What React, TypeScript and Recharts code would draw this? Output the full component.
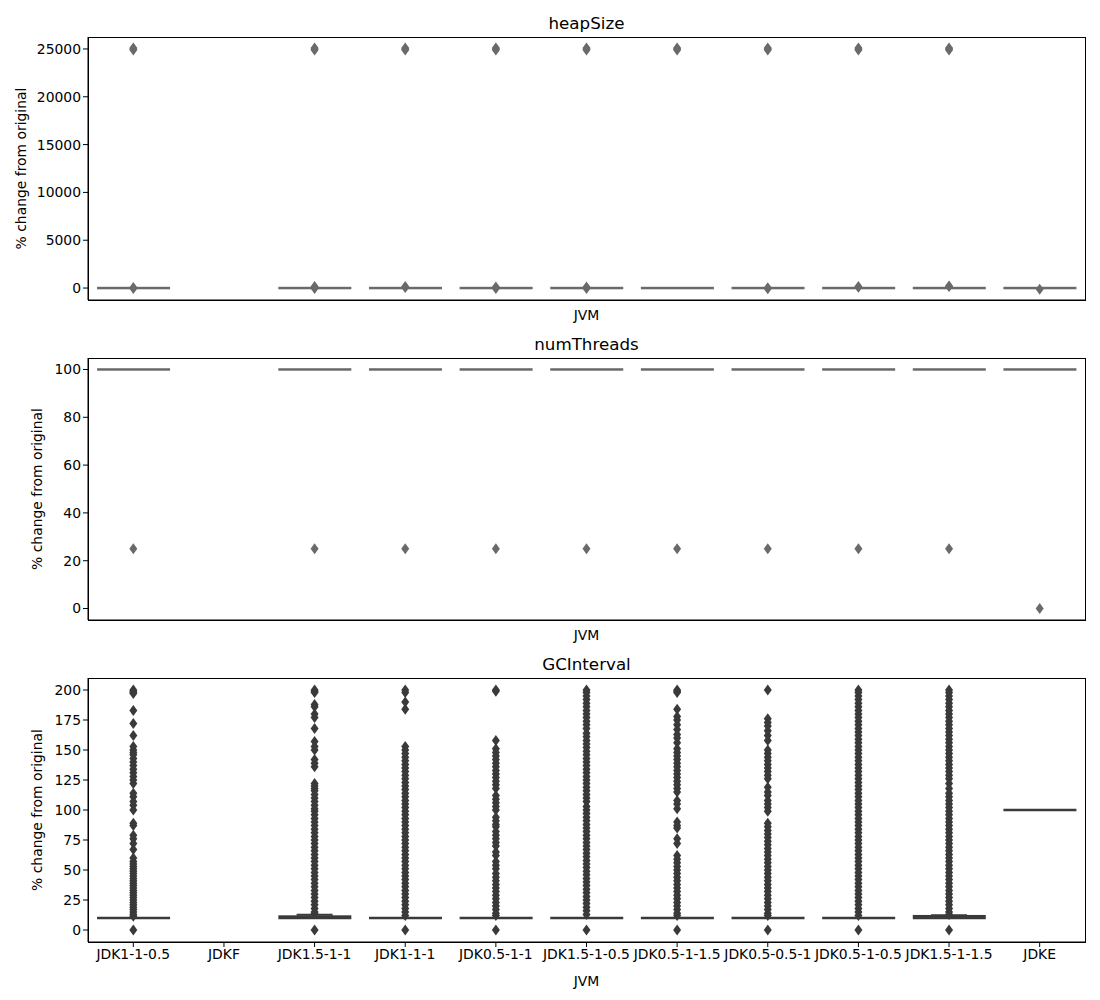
import React from "react"
import { ComposedChart, Bar, Scatter, XAxis, YAxis } from "recharts"

const jvms = [
  "JDK1-1-0.5",
  "JDKF",
  "JDK1.5-1-1",
  "JDK1-1-1",
  "JDK0.5-1-1",
  "JDK1.5-1-0.5",
  "JDK0.5-1-1.5",
  "JDK0.5-0.5-1",
  "JDK0.5-1-0.5",
  "JDK1.5-1-1.5",
  "JDKE",
]

// heapSize
const heapQ1 = [0, null, 0, 0, 0, 0, 0, 0, 0, 0, 0]
const heapQ3 = [0, null, 0, 0, 0, 0, 0, 0, 0, 0, 0]
const heapWhiskerHi = [0, null, 0, 0, 0, 0, 0, 0, 0, 0, 0]
const heapOutliers = [
  [25100, 25000, 24900, -60, 60],
  [],
  [25100, 25000, 24900, -60, 80, 150],
  [25100, 25000, 24900, 60, 150],
  [25100, 25000, 24900, -60, 100],
  [25100, 25000, 24900, -40, 120],
  [25100, 25000, 24900],
  [25100, 25000, 24900, -80, 40],
  [25100, 25000, 24900, 80, 160],
  [25100, 25000, 24900, 150, 220],
  [-120],
]
const heapTicks = [0, 5000, 10000, 15000, 20000, 25000]

// numThreads
const threadQ1 = [100, null, 100, 100, 100, 100, 100, 100, 100, 100, 100]
const threadQ3 = [100, null, 100, 100, 100, 100, 100, 100, 100, 100, 100]
const threadWhiskerHi = [100, null, 100, 100, 100, 100, 100, 100, 100, 100, 100]
const threadOutliers = [[25], [], [25], [25], [25], [25], [25], [25], [25], [25], [0]]
const threadTicks = [0, 20, 40, 60, 80, 100]

// GCInterval
const gcQ1 = [10, null, 10, 10, 10, 10, 10, 10, 10, 10, 100]
const gcQ3 = [10, null, 11.2, 10, 10, 10, 10, 10, 10, 11.5, 100]
const gcWhiskerHi = [10, null, 12.8, 10, 10, 10, 10, 10, 10, 12.3, 100]
const gcOutliers = [
  [200, 199, 198, 197, 183, 172, 162, 153, 150, 148, 146, 143, 140, 137, 134, 131, 128, 125, 122, 114, 111, 107, 104, 100, 89, 87,
    79, 76, 72, 67, 60, 57, 55, 53, 51, 49, 47, 45, 43, 41, 39, 37, 35, 33, 31, 29, 27, 25, 23, 21, 19, 17, 15, 13, 11.5, 0],
  [],
  [200, 199, 198, 188, 186, 180, 177, 168, 157, 153, 150, 142, 139, 136, 122, 120, 118, 116, 113, 110, 107, 104, 101, 99, 96, 93,
    90, 87, 84, 81, 78, 75, 72, 69, 66, 63, 60, 57, 54, 51, 48, 45, 42, 39, 36, 33, 30, 27, 24, 21, 18, 15, 13.5, 0],
  [200, 198, 190, 184, 153, 150, 147, 144, 141, 138, 135, 132, 129, 126, 123, 120, 117, 114, 111, 108, 105, 102, 99, 96, 93, 90,
    87, 84, 81, 78, 75, 72, 69, 66, 63, 60, 57, 54, 51, 48, 45, 42, 39, 36, 33, 30, 27, 24, 21, 18, 15, 12, 0],
  [200, 199, 158, 151, 148, 145, 142, 139, 136, 133, 130, 127, 124, 121, 118, 112, 109, 106, 103, 100, 94, 91, 88, 86, 82, 79,
    76, 73, 70, 65, 62, 57, 54, 51, 47, 44, 41, 38, 35, 32, 29, 26, 23, 20, 17, 14, 12, 0],
  [200, 198, 195, 192, 189, 186, 183, 180, 177, 174, 171, 168, 164, 161, 158, 155, 152, 149, 146, 143, 140, 137, 134, 131, 128,
    125, 122, 119, 116, 113, 110, 107, 103, 100, 97, 94, 91, 88, 85, 82, 79, 76, 73, 70, 67, 64, 61, 58, 55, 52, 49, 46, 43, 40,
    37, 34, 31, 28, 25, 22, 19, 16, 13, 0],
  [200, 199, 198, 184, 178, 175, 171, 167, 163, 160, 156, 151, 148, 145, 142, 139, 136, 133, 130, 127, 124, 121, 118, 115, 108,
    105, 101, 90, 87, 85, 76, 72, 62, 59, 56, 53, 50, 47, 44, 41, 38, 35, 32, 29, 26, 23, 20, 17, 14, 12, 0],
  [200, 176, 173, 170, 166, 162, 158, 150, 147, 144, 141, 138, 135, 132, 129, 126, 119, 115, 112, 108, 105, 102, 99, 89, 86, 83,
    80, 77, 74, 71, 68, 65, 62, 59, 56, 53, 50, 47, 44, 41, 38, 35, 32, 29, 26, 23, 20, 17, 14, 12, 0],
  [200, 198, 195, 192, 189, 186, 183, 180, 177, 174, 171, 168, 165, 162, 159, 156, 153, 150, 147, 144, 141, 138, 135, 132, 129,
    126, 123, 120, 117, 114, 111, 108, 105, 102, 99, 96, 93, 90, 87, 84, 81, 78, 75, 72, 69, 66, 63, 60, 57, 54, 51, 48, 45, 42,
    39, 36, 33, 30, 27, 24, 21, 18, 15, 12, 0],
  [200, 198, 195, 192, 189, 186, 183, 180, 177, 174, 171, 168, 165, 162, 159, 156, 153, 150, 147, 144, 141, 138, 135, 132, 129,
    126, 122, 118, 114, 111, 108, 105, 102, 99, 96, 93, 90, 87, 84, 81, 78, 75, 72, 69, 66, 63, 60, 57, 54, 51, 48, 45, 42, 39,
    36, 33, 30, 27, 24, 21, 18, 15, 13, 0],
  [],
]
const gcTicks = [0, 25, 50, 75, 100, 125, 150, 175, 200]

const FONT = "DejaVu Sans"
const PLOT_LEFT = 88
const PLOT_WIDTH = 997

function Diamond(props: any) {
  const { cx, cy, fill } = props
  if (cx == null || cy == null) return null
  return <path d={`M${cx},${cy - 5.5}L${cx + 4},${cy}L${cx},${cy + 5.5}L${cx - 4},${cy}Z`} fill={fill} />
}

// collapsed boxes have zero height, so draw them at least as a 2.5px line
function makeBoxShape(color: string) {
  return (props: any) => {
    const { x, y, width, height } = props
    if (x == null || y == null || !width) return null
    const top = Math.min(y, y + (height || 0))
    const h = Math.abs(height || 0)
    return <rect x={x} y={top - 1.25} width={width} height={h + 2.5} fill={color} />
  }
}

function makeCapShape(color: string) {
  return (props: any) => {
    const { cx, cy } = props
    if (cx == null || cy == null) return null
    return <line x1={cx - 18} x2={cx + 18} y1={cy} y2={cy} stroke={color} strokeWidth={2} />
  }
}

function YLabel(x: number) {
  return (props: any) => {
    const vb = props.viewBox
    const cy = vb.y + vb.height / 2
    return (
      <text x={x} y={cy} transform={`rotate(-90 ${x} ${cy})`} textAnchor="middle" dominantBaseline="central"
        fontFamily={FONT} fontSize={13.9} fill="#000">
        % change from original
      </text>
    )
  }
}

type PanelProps = {
  title: string
  top: number
  height: number
  marginTop: number
  axisHeight: number
  labelOffset: number
  yLabelX: number
  q1: (number | null)[]
  q3: (number | null)[]
  whiskerHi: (number | null)[]
  outliers: number[][]
  ticks: number[]
  domain: [number, number]
  color: string
  showTickLabels: boolean
}

function Panel(p: PanelProps) {
  const rows = jvms.map((jvm, i) => ({
    jvm,
    box: p.q1[i] == null ? null : [p.q1[i], p.q3[i]],
  }))
  const points = jvms.flatMap((jvm, i) => p.outliers[i].map((value) => ({ jvm, value })))
  const caps = jvms
    .map((jvm, i) => ({ jvm, value: p.whiskerHi[i], q3: p.q3[i] }))
    .filter((c) => c.value != null && c.q3 != null && c.value > c.q3)
  const plotHeight = p.height - p.marginTop - p.axisHeight

  return (
    <div style={{ position: "absolute", left: 0, top: p.top, width: 1100, height: p.height }}>
      <div
        style={{
          position: "absolute",
          left: PLOT_LEFT,
          width: PLOT_WIDTH,
          top: p.marginTop - 24,
          lineHeight: "20px",
          textAlign: "center",
          fontFamily: FONT,
          fontSize: 16.7,
          color: "#000",
        }}
      >
        {p.title}
      </div>
      <ComposedChart
        width={1100}
        height={p.height}
        data={rows}
        margin={{ top: p.marginTop, right: 15, bottom: 0, left: 0 }}
        barCategoryGap="10%"
      >
        <XAxis
          dataKey="jvm"
          type="category"
          allowDuplicatedCategory={false}
          height={p.axisHeight}
          interval={0}
          stroke="#000"
          tickSize={5}
          tickLine={{ stroke: "#000" }}
          axisLine={{ stroke: "#000" }}
          tick={p.showTickLabels ? { fill: "#000", fontFamily: FONT, fontSize: 13.9 } : false}
          label={{ value: "JVM", position: "insideBottom", offset: p.labelOffset, fill: "#000", fontFamily: FONT, fontSize: 13.9 }}
        />
        <YAxis
          type="number"
          width={PLOT_LEFT}
          domain={p.domain}
          ticks={p.ticks}
          allowDataOverflow
          interval={0}
          stroke="#000"
          tickSize={5}
          tick={{ fill: "#000", fontFamily: FONT, fontSize: 13.9 }}
          label={{ content: YLabel(p.yLabelX) }}
        />
        <Bar dataKey="box" shape={makeBoxShape(p.color)} isAnimationActive={false} />
        <Scatter data={caps} dataKey="value" shape={makeCapShape(p.color)} isAnimationActive={false} />
        <Scatter data={points} dataKey="value" fill={p.color} shape={<Diamond />} isAnimationActive={false} />
      </ComposedChart>
      {/* axes frame (top and right spines) */}
      <div
        style={{
          position: "absolute",
          left: PLOT_LEFT - 0.5,
          top: p.marginTop - 0.5,
          width: PLOT_WIDTH + 1,
          height: plotHeight + 1,
          boxSizing: "border-box",
          border: "1px solid #000",
          pointerEvents: "none",
        }}
      />
    </div>
  )
}

export default function App() {
  return (
    <div style={{ position: "absolute", left: 0, top: 0, width: 1100, height: 1000, background: "#fff" }}>
      <Panel
        title="heapSize"
        top={0}
        height={330}
        marginTop={37}
        axisHeight={30}
        labelOffset={10}
        yLabelX={21}
        q1={heapQ1}
        q3={heapQ3}
        whiskerHi={heapWhiskerHi}
        outliers={heapOutliers}
        ticks={heapTicks}
        domain={[-1250, 26250]}
        color="#6a6a6a"
        showTickLabels={false}
      />
      <Panel
        title="numThreads"
        top={330}
        height={320}
        marginTop={28}
        axisHeight={30}
        labelOffset={10}
        yLabelX={37}
        q1={threadQ1}
        q3={threadQ3}
        whiskerHi={threadWhiskerHi}
        outliers={threadOutliers}
        ticks={threadTicks}
        domain={[-4.8, 104.8]}
        color="#6a6a6a"
        showTickLabels={false}
      />
      <Panel
        title="GCInterval"
        top={650}
        height={342}
        marginTop={28}
        axisHeight={50}
        labelOffset={6}
        yLabelX={37}
        q1={gcQ1}
        q3={gcQ3}
        whiskerHi={gcWhiskerHi}
        outliers={gcOutliers}
        ticks={gcTicks}
        domain={[-10, 210]}
        color="#3a3a3a"
        showTickLabels={true}
      />
    </div>
  )
}
